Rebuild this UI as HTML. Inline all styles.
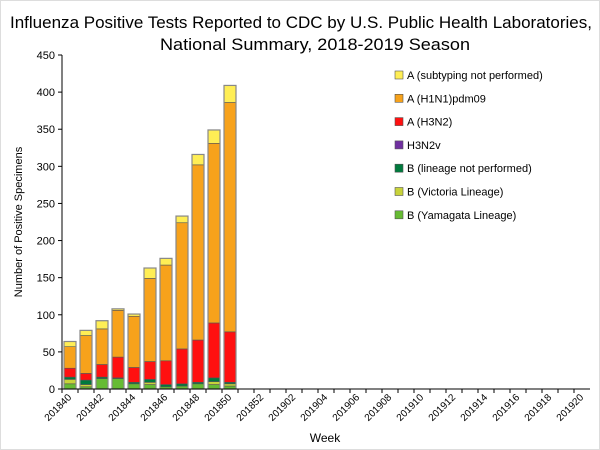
<!DOCTYPE html>
<html><head><meta charset="utf-8"><style>
body{margin:0;background:#fff;}
svg{display:block;font-family:"Liberation Sans",Arial,sans-serif;}
</style></head><body>
<svg id="c" width="600" height="450">
<rect x="0.5" y="0.5" width="599" height="449" fill="#fff" stroke="#ddd"/>
<text x="10" y="28" font-size="17" textLength="582" lengthAdjust="spacingAndGlyphs" fill="#000">Influenza Positive Tests Reported to CDC by U.S. Public Health Laboratories,</text>
<text x="160" y="50" font-size="17" textLength="310" lengthAdjust="spacingAndGlyphs" fill="#000">National Summary, 2018-2019 Season</text>
<text transform="translate(22,222) rotate(-90)" font-size="11" text-anchor="middle">Number of Positive Specimens</text>
<text x="325" y="442" font-size="12" text-anchor="middle">Week</text>
<g id="plot"></g>
<g id="legend"></g>
</svg>
<script>
const weeks=[];
for(let w=40;w<=52;w++)weeks.push('2018'+w);
for(let w=1;w<=20;w++)weeks.push('2019'+(w<10?'0'+w:w));
const yamagata=[7,3,14,14,7,6,3,4,7,6,4];
const victoria=[6,3,0,0,0,3,0,0,0,4,3];
const lineageNP=[3,6,2,1,2,4,3,3,2,5,2];
const h3n2v=[0,0,0,0,0,0,0,0,0,0,0];
const h3n2=[12,9,17,28,20,24,32,47,57,74,68];
const h1n1=[29,51,48,63,69,112,129,170,236,242,309];
const subNP=[7,7,11,2,3,14,9,9,14,18,23];
const yTicks=[0,50,100,150,200,250,300,350,400,450];
const seriesNames=['A (subtyping not performed)','A (H1N1)pdm09','A (H3N2)','H3N2v','B (lineage not performed)','B (Victoria Lineage)','B (Yamagata Lineage)'];
const stackOrder=[yamagata,victoria,lineageNP,h3n2v,h3n2,h1n1,subNP];
const stackColors=['#66bb33','#c8d33a','#007a3d','#7030a0','#ff1010','#f7a21b','#ffee55'];
const legendColors=['#ffee55','#f7a21b','#ff1010','#7030a0','#007a3d','#c8d33a','#66bb33'];
const NS='http://www.w3.org/2000/svg';
const X0=62,X1=590,Y0=389,Y1=55,YMAX=450;
const bw=(X1-X0)/weeks.length;
const y=v=>Y0-(v/YMAX)*(Y0-Y1);
const x=i=>X0+i*bw;
const g=document.getElementById('plot');
function mk(t,a){const e=document.createElementNS(NS,t);for(const k in a)e.setAttribute(k,a[k]);return e;}
yTicks.forEach(t=>{
 const tk=mk('line',{x1:X0-4,x2:X0,y1:y(t),y2:y(t),stroke:'#000'});
 
 
 g.appendChild(tk);
 const tx=mk('text',{x:X0-7,y:y(t)+4,'font-size':11,'text-anchor':'end'});
 tx.textContent=t;
 
 
 g.appendChild(tx);
});
for(let i=0;i<yamagata.length;i++){
 let base=0;
 stackOrder.forEach((s,k)=>{
  const v=s[i]; if(!v)return;
  const r=mk('rect',{x:x(i)+2,y:y(base+v),width:bw-4,height:y(base)-y(base+v),fill:stackColors[k],stroke:'#555','stroke-width':0.6});
  
  
  g.appendChild(r);
  base+=v;
 });
 const o=mk('rect',{x:x(i)+2,y:y(base),width:bw-4,height:y(0)-y(base),fill:'none',stroke:'#888','stroke-width':1.2});
 
 
 g.appendChild(o);
}
const ax=mk('path',{d:`M${X0},${Y1}V${Y0}H${X1}`,fill:'none',stroke:'#000'});


g.appendChild(ax);
weeks.forEach((w,i)=>{
 const tk=mk('line',{x1:x(i),x2:x(i),y1:Y0,y2:Y0+4,stroke:'#000'});
 
 
 g.appendChild(tk);
 if(i%2===0){
  const cx=x(i)+bw/2;
  const tx=mk('text',{transform:`translate(${cx+2},${Y0+9}) rotate(-45)`,'font-size':10,'text-anchor':'end'});
  tx.textContent=w;
  
  
  g.appendChild(tx);
 }
});
const lg=document.getElementById('legend');
seriesNames.forEach((n,k)=>{
 const ly=71+k*23.3;
 const r=mk('rect',{x:395,y:ly,width:8,height:8,fill:legendColors[k],stroke:'#555','stroke-width':0.6});
 
 
 lg.appendChild(r);
 const t=mk('text',{x:407,y:ly+8,'font-size':11});
 t.textContent=n;
 
 
 lg.appendChild(t);
});
</script>
</body></html>
